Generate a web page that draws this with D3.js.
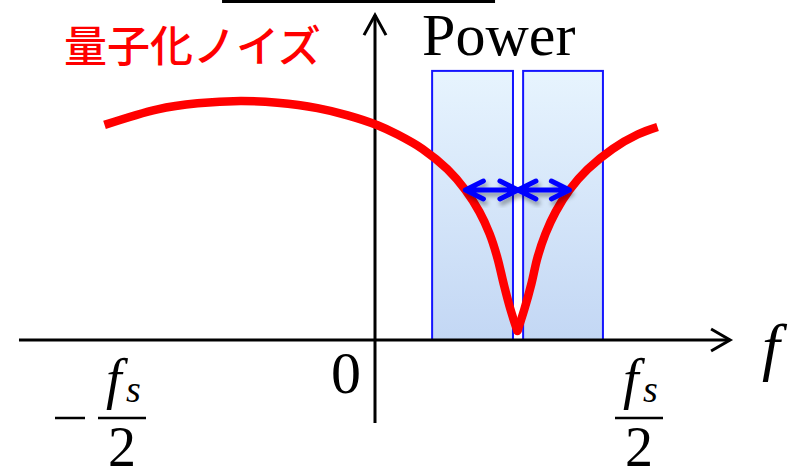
<!DOCTYPE html>
<html><head><meta charset="utf-8">
<script src="https://cdn.jsdelivr.net/npm/d3@7"></script>
<style>html,body{margin:0;padding:0;background:#fff;}svg{display:block;}</style>
</head><body>
<script>
// Frequency in units of fs/2 (−1 … 1), noise level in arbitrary units
const curveF = [-1.048,-0.844,-0.690,-0.525,-0.383,-0.229,-0.113,0.002,0.079,0.175,0.271,0.340,0.394,0.433,0.463,0.487,0.513,0.540,0.567,0.594,0.617,0.648,0.687,0.740,0.810,0.906,1.002,1.079];
const curveV = [7.17,7.69,7.89,7.97,7.91,7.73,7.49,7.16,6.85,6.37,5.69,5.0,4.27,3.54,2.74,1.88,1.03,0.30,1.03,1.88,2.74,3.54,4.27,5.0,5.69,6.37,6.85,7.10];
const bandStart = [0.212, 0.562];
const bandEnd   = [0.523, 0.869];
const bandTop   = 8.97;
const arrowStart = [0.340, 0.542];
const arrowEnd   = [0.542, 0.740];
const arrowLevel = 5.0;
const xAxisExtent = [-1.377, 1.358];
const yAxisExtent = [-2.77, 10.83];
const tickF = [-1, 0, 1];

const W = 802, H = 469;
const svg = d3.select("body").append("svg").attr("width", W).attr("height", H);
const x = d3.scaleLinear().domain([-1, 1]).range([117, 637]);
const y = d3.scaleLinear().domain([0, 10]).range([340, 40]);

const defs = svg.append("defs");
const grad = defs.append("linearGradient").attr("id","bandGrad").attr("x1",0).attr("y1",0).attr("x2",0).attr("y2",1);
grad.append("stop").attr("offset","0%").attr("stop-color","#e7f4fe");
grad.append("stop").attr("offset","100%").attr("stop-color","#c3d7f4");
const filt = defs.append("filter").attr("id","shadow").attr("x","-20%").attr("y","-50%").attr("width","140%").attr("height","200%");
filt.append("feDropShadow").attr("dx",2).attr("dy",4).attr("stdDeviation",2).attr("flood-color","#000").attr("flood-opacity",0.35);

// top decorative rule
svg.append("line").attr("x1", x(-0.596)).attr("x2", x(0.454)).attr("y1", 1.5).attr("y2", 1.5)
  .attr("stroke","#000").attr("stroke-width",3);

// bands
svg.selectAll("rect.band").data(bandStart).join("rect").attr("class","band")
  .attr("x", d => x(d)).attr("width", (d,i) => x(bandEnd[i]) - x(d))
  .attr("y", y(bandTop)).attr("height", y(0) - y(bandTop))
  .attr("fill","url(#bandGrad)").attr("stroke","#1414ff").attr("stroke-width",2);

// axes
const axisG = svg.append("g").attr("stroke","#000").attr("stroke-width",3).attr("fill","none");
axisG.append("line").attr("x1", x(xAxisExtent[0])).attr("x2", x(xAxisExtent[1])).attr("y1", y(0)).attr("y2", y(0));
axisG.append("path").attr("d", `M${x(xAxisExtent[1])-19},${y(0)-11}L${x(xAxisExtent[1])},${y(0)}L${x(xAxisExtent[1])-19},${y(0)+11}`);
axisG.append("line").attr("x1", x(0)-2).attr("x2", x(0)-2).attr("y1", y(yAxisExtent[0])).attr("y2", y(yAxisExtent[1]));
axisG.append("path").attr("d", `M${x(0)-2-11},${y(yAxisExtent[1])+20}L${x(0)-2},${y(yAxisExtent[1])}L${x(0)-2+11},${y(yAxisExtent[1])+20}`);

// noise curve, split at the notch
const pts = curveF.map((f,i) => [f, curveV[i]]);
const minIdx = d3.minIndex(curveV);
const line = d3.line().x(d => x(d[0])).y(d => y(d[1])).curve(d3.curveCatmullRom.alpha(0.5));
const curveG = svg.append("g").attr("fill","none").attr("stroke","#ff0000").attr("stroke-width",8.5);
curveG.append("path").attr("d", line(pts.slice(0, minIdx + 1)));
curveG.append("path").attr("d", line(pts.slice(minIdx)));
svg.append("circle").attr("cx", x(pts[minIdx][0])).attr("cy", y(pts[minIdx][1])).attr("r", 4.25).attr("fill","#ff0000");

// double arrows
const arrG = svg.append("g").attr("stroke","#0000ff").attr("stroke-width",5).attr("fill","none")
  .attr("stroke-linecap","round").attr("stroke-linejoin","round").attr("filter","url(#shadow)");
arrowStart.forEach((s,i) => {
  const x0 = x(s), x1 = x(arrowEnd[i]), yy = y(arrowLevel);
  arrG.append("path").attr("d",
    `M${x0},${yy}L${x1},${yy}M${x0+18},${yy-9}L${x0},${yy}L${x0+18},${yy+9}M${x1-18},${yy-9}L${x1},${yy}L${x1-18},${yy+9}`);
});

// labels
svg.append("text").attr("x", 64).attr("y", 62).attr("fill","#ff0000")
  .attr("font-family","'Noto Sans CJK JP'").attr("font-weight",500).attr("font-size",43).text("量子化ノイズ");
svg.append("text").attr("x", x(bandStart[0]) - 10).attr("y", 55).attr("fill","#000")
  .attr("font-family","'Liberation Serif'").attr("font-size",60).text("Power");
svg.append("text").attr("x", x(0) - 31).attr("y", 393).attr("text-anchor","middle")
  .attr("font-family","'Liberation Serif'").attr("font-size",60).text("0");
svg.append("text").attr("x", 762).attr("y", 368).attr("font-family","'Liberation Serif'")
  .attr("font-style","italic").attr("font-size",64).text("f");

// fs/2 tick labels
tickF.filter(d => d !== 0).forEach(d => {
  const cx = x(d) + (d < 0 ? 5 : 2);
  const g = svg.append("g");
  const t = g.append("text").attr("font-family","'Liberation Serif'").attr("font-style","italic");
  t.append("tspan").attr("x", cx - 16).attr("y", 398).attr("font-size",56).text("f");
  t.append("tspan").attr("x", cx + 4).attr("y", 402).attr("font-size",38).text("s");
  g.append("line").attr("x1", cx - 24).attr("x2", cx + 24).attr("y1", 418).attr("y2", 418)
    .attr("stroke","#000").attr("stroke-width",2.5);
  g.append("text").attr("x", cx).attr("y", 466).attr("text-anchor","middle")
    .attr("font-family","'Liberation Serif'").attr("font-size",56).text("2");
  if (d < 0) {
    g.append("line").attr("x1", cx - 67).attr("x2", cx - 37).attr("y1", 418).attr("y2", 418)
      .attr("stroke","#000").attr("stroke-width",2.5);
  }
});
</script>
</body></html>
